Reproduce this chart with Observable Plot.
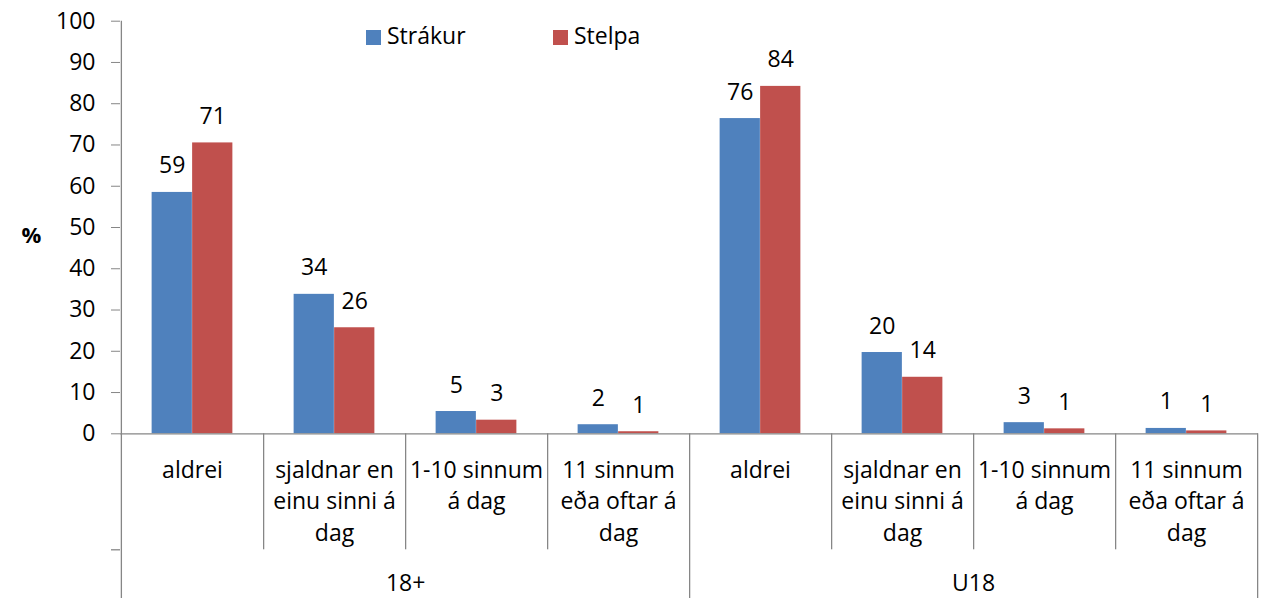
<!DOCTYPE html>
<html>
<head>
<meta charset="utf-8">
<script src="https://cdn.jsdelivr.net/npm/d3@7"></script>
<script src="https://cdn.jsdelivr.net/npm/@observablehq/plot@0.6"></script>
<style>
  html, body { margin: 0; padding: 0; background: #fff; }
  #wrap { position: relative; width: 1264px; height: 598px; font-family: "Open Sans", sans-serif; }
  #wrap svg { position: absolute; left: 0; top: 0; }
  svg [aria-label^="y-axis"] line, svg [aria-label^="y-axis"] path { stroke: #868686; }
  .legend { position: absolute; top: 22px; font-size: 23px; line-height: 26px; color: #000; white-space: nowrap; }
  .legend .sw { display: inline-block; width: 15px; height: 15px; vertical-align: -1px; margin-right: 6px; }
</style>
</head>
<body>
<div id="wrap"></div>
<script>
// ---- data ----
const groups = ["18+", "U18"];
const categories = ["aldrei", "sjaldnar en\neinu sinni á\ndag", "1-10 sinnum\ná dag", "11 sinnum\neða oftar á\ndag"];
const series = ["Strákur", "Stelpa"];
const strakur = [58.5, 33.8, 5.4, 2.2, 76.4, 19.7, 2.7, 1.3];
const stelpa  = [70.5, 25.7, 3.3, 0.5, 84.2, 13.7, 1.2, 0.7];
const strakurLabels = ["59", "34", "5", "2", "76", "20", "3", "1"];
const stelpaLabels  = ["71", "26", "3", "1", "84", "14", "1", "1"];
const colors = ["#4F81BD", "#C0504D"];

// ---- table ----
const rows = groups.flatMap((g, gi) => categories.map((c, ci) => {
  const i = gi * categories.length + ci;
  return {key: g + "|" + ci, group: g, cat: c, strakur: strakur[i], stelpa: stelpa[i],
          strakurLabel: strakurLabels[i], stelpaLabel: stelpaLabels[i], ci};
}));
const keys = rows.map(d => d.key);
const innerSeps = rows.filter(d => d.ci !== categories.length - 1).map(d => d.key);
const groupEnds = rows.filter(d => d.ci === categories.length - 1).map(d => d.key);
const groupMids = rows.filter(d => d.ci === 1).map(d => ({key: d.key, group: d.group}));

const W = 1264, H = 598, mL = 120, mR = 6, mT = 20.7, mB = 164.7;
const band = (W - mL - mR) / keys.length;
const half = band / 2;
const barW = 40.5;
const plotH = H - mT - mB;
const innerDrop = 116;
const grey = "#868686";

const chart = Plot.plot({
  width: W, height: H,
  marginLeft: mL, marginRight: mR, marginTop: mT, marginBottom: mB,
  style: {fontFamily: "Open Sans, sans-serif", fontSize: "23px", color: "#000", background: "transparent"},
  x: {type: "band", domain: keys, padding: 0, axis: null},
  y: {domain: [0, 100], ticks: 10, tickSize: 9, tickPadding: 16, label: null},
  marks: [
    Plot.barY(rows, {x: "key", y: "strakur", fill: colors[0], insetLeft: half - barW, insetRight: half}),
    Plot.barY(rows, {x: "key", y: "stelpa", fill: colors[1], insetLeft: half, insetRight: half - barW}),
    Plot.ruleY([0], {stroke: grey, strokeWidth: 1.3}),
    // small tick at the left end of the inner category row
    Plot.ruleY([0], {dy: innerDrop, insetLeft: -9, insetRight: W - mL - mR, stroke: grey, strokeWidth: 1.3}),
    // left axis line (extends down through the category area)
    Plot.ruleX([keys[0]], {x: d => d, dx: -half, insetBottom: -mB, stroke: grey, strokeWidth: 1.3}),
    // inner separators
    Plot.ruleX(innerSeps, {x: d => d, dx: half, insetTop: plotH, insetBottom: -innerDrop, stroke: grey, strokeWidth: 1.3}),
    // group separators
    Plot.ruleX(groupEnds, {x: d => d, dx: half, insetTop: plotH, insetBottom: -mB, stroke: grey, strokeWidth: 1.3}),
    // value labels
    Plot.text(rows, {x: "key", y: "strakur", text: "strakurLabel", dx: -barW / 2, dy: -19, lineAnchor: "bottom", fontSize: 23}),
    Plot.text(rows, {x: "key", y: "stelpa", text: "stelpaLabel", dx: barW / 2, dy: -19, lineAnchor: "bottom", fontSize: 23}),
    // category labels
    Plot.text(rows, {x: "key", text: "cat", frameAnchor: "bottom", lineAnchor: "top", dy: 21, lineHeight: 1.39, fontSize: 23}),
    // group labels
    Plot.text(groupMids, {x: "key", text: "group", frameAnchor: "bottom", dx: half, dy: 157, lineAnchor: "bottom", fontSize: 23}),
    // y label
    Plot.text(["%"], {frameAnchor: "left", dx: -99, dy: 8, fontWeight: "bold", fontSize: 22})
  ]
});

const wrap = document.getElementById("wrap");
wrap.appendChild(chart);

// legend (inside the plot area, top)
const legendPos = [366, 553];
series.forEach((s, i) => {
  const el = document.createElement("div");
  el.className = "legend";
  el.style.left = legendPos[i] + "px";
  el.innerHTML = `<span class="sw" style="background:${colors[i]}"></span>${s}`;
  wrap.appendChild(el);
});
</script>
</body>
</html>
